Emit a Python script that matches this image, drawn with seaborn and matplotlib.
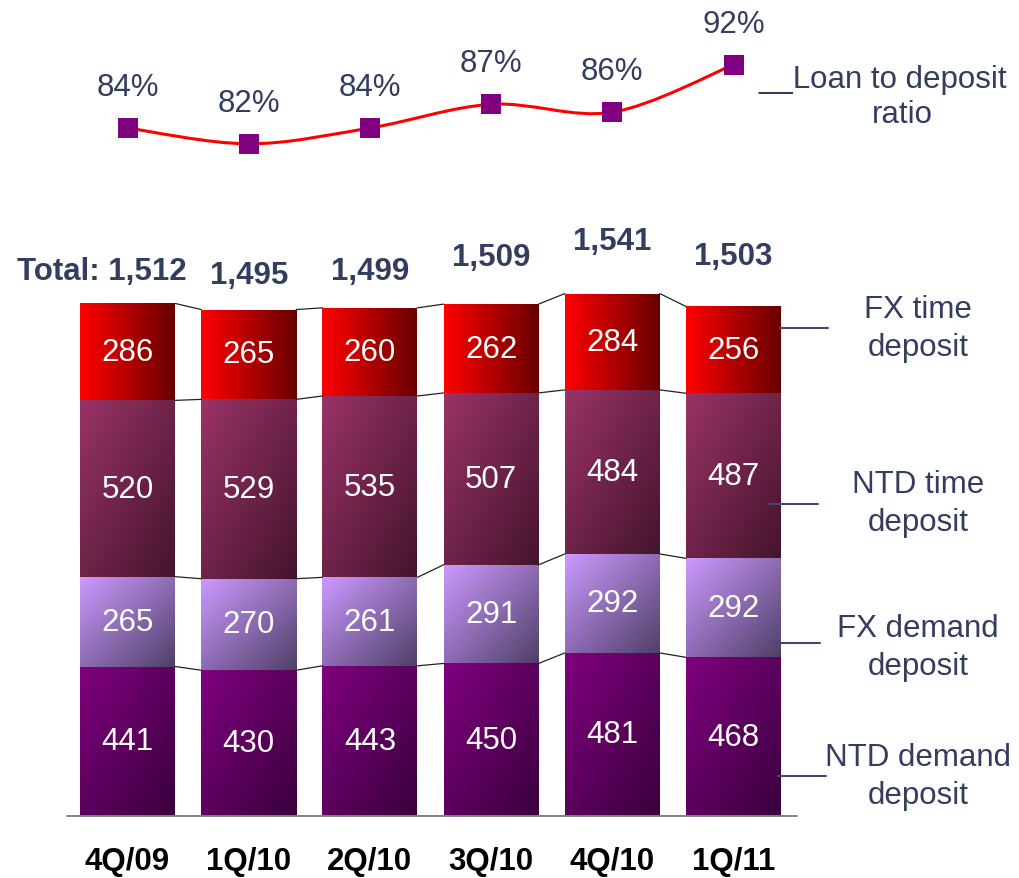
import numpy as np
import seaborn as sns
import matplotlib.pyplot as plt
import matplotlib.colors as mcolors
from matplotlib.path import Path
from matplotlib.patches import PathPatch

# Datos (NT$ bn)
trimestres = ['4Q/09', '1Q/10', '2Q/10', '3Q/10', '4Q/10', '1Q/11']
ntd_demand = [441, 430, 443, 450, 481, 468]
fx_demand = [265, 270, 261, 291, 292, 292]
ntd_time = [520, 529, 535, 507, 484, 487]
fx_time = [286, 265, 260, 262, 284, 256]
totales = [1512, 1495, 1499, 1509, 1541, 1503]
ratio_ld = [84, 82, 84, 87, 86, 92]

# capas de abajo hacia arriba: valores, color inicio, color final, tipo de degradado
capas = [
    (ntd_demand, '#800080', '#3a003c', 'd'),
    (fx_demand, '#cc99ff', '#4f4068', 'd'),
    (ntd_time, '#993366', '#45142d', 'd'),
    (fx_time, '#ff0000', '#680000', 'h'),
]

NAVY = '#323e60'
W, H = 1019, 879
X0, XS = 127.5, 121.2      # px del primer centro, px por categoria
BASE, YS = 817, 0.339      # px de la base, px por unidad
P_REF, P_PX, PS = 84, 129, 7.9  # ratio
ANCHO = 95 / XS

sns.set_theme(style='white')
plt.rcParams['font.family'] = ['Liberation Sans', 'DejaVu Sans']

fig = plt.figure(figsize=(W / 100, H / 100), dpi=100)
ax = fig.add_axes([0, 0, 1, 1])
ax2 = fig.add_axes([0, 0, 1, 1])
ax2.patch.set_visible(False)


def degradado(ax, patch, c0, c1, modo):
    x0, y0 = patch.get_x(), patch.get_y()
    w, h = patch.get_width(), patch.get_height()
    u, v = np.meshgrid(np.linspace(0, 1, 80), np.linspace(0, 1, 80))
    t = u if modo == 'h' else (u + v) / 2
    a = np.array(mcolors.to_rgb(c0))
    b = np.array(mcolors.to_rgb(c1))
    img = a * (1 - t[..., None]) + b * t[..., None]
    im = ax.imshow(img, extent=[x0, x0 + w, y0, y0 + h], origin='upper',
                   aspect='auto', interpolation='bilinear', zorder=2)
    im.set_clip_path(patch)


# barras apiladas con seaborn
acum = np.zeros(len(trimestres))
limites = []
for valores, c0, c1, modo in capas:
    base = acum.copy()
    acum = acum + np.array(valores)
    limites.append(acum.copy())
    n_antes = len(ax.patches)
    sns.barplot(x=trimestres, y=acum, order=trimestres, color=c0, width=ANCHO,
                errorbar=None, linewidth=0, ax=ax)
    for i, p in enumerate(ax.patches[n_antes:]):
        p.set_y(base[i])
        p.set_height(valores[i])
        degradado(ax, p, c0, c1, modo)
        ax.text(i, base[i] + valores[i] / 2, str(valores[i]), ha='center',
                va='center', color='white', fontsize=22.5, zorder=5)

# lineas de union entre barras
for lim in limites:
    for i in range(len(trimestres) - 1):
        ax.plot([i + ANCHO / 2, i + 1 - ANCHO / 2], [lim[i], lim[i + 1]],
                color='#222222', lw=0.9, zorder=3)

# linea base
ax.plot([-0.5, len(trimestres) - 0.48], [0, 0], color='#808080', lw=1.4, zorder=3)

# totales
desp = [32, 34, 37, 47, 53, 50]
for i, tot in enumerate(totales):
    txt = f'{tot:,}'
    xi = i
    if i == 0:
        txt = 'Total: ' + txt
        xi = i - 0.21
    ax.text(xi, tot + desp[i] / YS, txt, ha='center', va='center',
            color=NAVY, fontsize=22.5, fontweight='bold')

# etiquetas del eje x
for i, q in enumerate(trimestres):
    ax.text(i, -(862 - BASE) / YS, q, ha='center', va='center',
            color='black', fontsize=22.5, fontweight='bold')

ax.set_xlim(-X0 / XS, (W - X0) / XS)
ax.set_ylim(-(H - BASE) / YS, BASE / YS)
ax.axis('off')

# ratio prestamos / depositos: curva suave por los puntos
xs = np.arange(len(ratio_ld), dtype=float)
ys = np.array(ratio_ld, dtype=float)
pts = np.column_stack([xs, ys])
ext = np.vstack([pts[0], pts, pts[-1]])
verts = [tuple(pts[0])]
codes = [Path.MOVETO]
for k in range(len(pts) - 1):
    p0, p1, p2, p3 = ext[k], ext[k + 1], ext[k + 2], ext[k + 3]
    verts += [tuple(p1 + (p2 - p0) / 6), tuple(p2 - (p3 - p1) / 6), tuple(p2)]
    codes += [Path.CURVE4] * 3
ax2.add_patch(PathPatch(Path(verts, codes), facecolor='none', edgecolor='#ff0000',
                        lw=2.2, zorder=2))
sns.scatterplot(x=xs, y=ys, marker='s', s=225, color='#800080', linewidth=0,
                zorder=3, ax=ax2)
for i, r in enumerate(ratio_ld):
    ax2.text(i, r + 5.2, f'{r}%', ha='center', va='center', color=NAVY, fontsize=22.5)

ax2.set_xlim(-X0 / XS, (W - X0) / XS)
ax2.set_ylim(P_REF - (H - P_PX) / PS, P_REF + P_PX / PS)
ax2.axis('off')

# leyenda lateral
fig.text(758 / W, 1 - 80 / H, '__Loan to deposit', ha='left', va='center',
         color=NAVY, fontsize=22.5)
fig.text(902 / W, 1 - 115 / H, 'ratio', ha='center', va='center',
         color=NAVY, fontsize=22.5)

etiquetas = [
    ('FX time\ndeposit', 329, (780, 828, 329)),
    ('NTD time\ndeposit', 504, (769, 818, 505)),
    ('FX demand\ndeposit', 648, (776, 820, 644)),
    ('NTD demand\ndeposit', 777, (778, 826, 777)),
]
for texto, yc, (xa, xb, yl) in etiquetas:
    fig.text(918 / W, 1 - yc / H, texto, ha='center', va='center',
             color=NAVY, fontsize=22.5, linespacing=1.32)
    fig.add_artist(plt.Line2D([xa / W, xb / W], [1 - yl / H, 1 - yl / H],
                              color='#3f4c6e', lw=1.5))

fig.savefig('out.png', dpi=100)
